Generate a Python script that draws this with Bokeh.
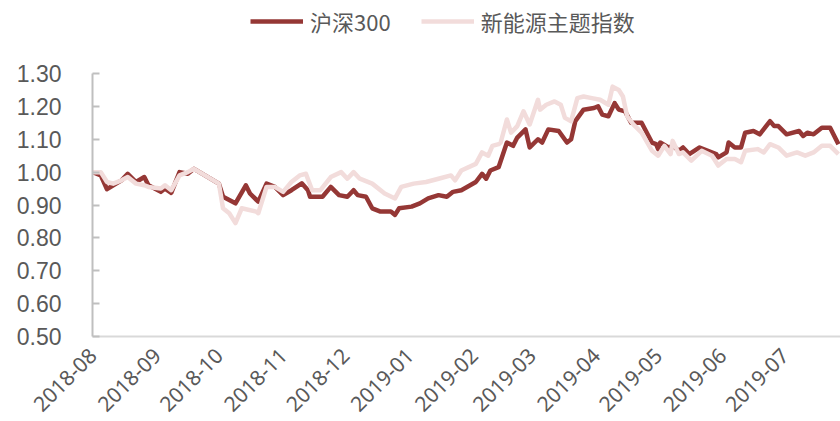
from datetime import datetime
from bokeh.plotting import figure
from bokeh.models import (Range1d, FixedTicker, DatetimeTickFormatter, Legend,
                          LegendItem, ColumnDataSource, NumeralTickFormatter)
from bokeh.embed import file_html
from bokeh.resources import INLINE
import math

# ---------------- data ----------------
hs300_dates = [
    "2018-08-01", "2018-08-05", "2018-08-08", "2018-08-11", "2018-08-15", "2018-08-18",
    "2018-08-22", "2018-08-26", "2018-08-28", "2018-09-03", "2018-09-05", "2018-09-08",
    "2018-09-12", "2018-09-16", "2018-09-19", "2018-10-01", "2018-10-03", "2018-10-09",
    "2018-10-14", "2018-10-16", "2018-10-20", "2018-10-24", "2018-10-28", "2018-11-01",
    "2018-11-05", "2018-11-10", "2018-11-13", "2018-11-14", "2018-11-20", "2018-11-24",
    "2018-11-28", "2018-12-02", "2018-12-05", "2018-12-07", "2018-12-11", "2018-12-14",
    "2018-12-18", "2018-12-23", "2018-12-25", "2018-12-27", "2019-01-02", "2019-01-06",
    "2019-01-10", "2019-01-15", "2019-01-19", "2019-01-22", "2019-01-26", "2019-02-02",
    "2019-02-05", "2019-02-07", "2019-02-09", "2019-02-13", "2019-02-17", "2019-02-20",
    "2019-02-22", "2019-02-26", "2019-02-28", "2019-03-04", "2019-03-06", "2019-03-09",
    "2019-03-14", "2019-03-18", "2019-03-20", "2019-03-22", "2019-03-26", "2019-03-31",
    "2019-04-02", "2019-04-04", "2019-04-07", "2019-04-10", "2019-04-12", "2019-04-15",
    "2019-04-18", "2019-04-23", "2019-04-28", "2019-04-30", "2019-05-01", "2019-05-02",
    "2019-05-06", "2019-05-08", "2019-05-11", "2019-05-13", "2019-05-16", "2019-05-21",
    "2019-05-25", "2019-05-29", "2019-05-30", "2019-06-03", "2019-06-04", "2019-06-07",
    "2019-06-10", "2019-06-12", "2019-06-16", "2019-06-19", "2019-06-24", "2019-06-26",
    "2019-06-28", "2019-07-02", "2019-07-08", "2019-07-10", "2019-07-12", "2019-07-15",
    "2019-07-19", "2019-07-23", "2019-07-27",
]
hs300 = [
    1.000, 0.990, 0.948, 0.960, 0.975, 0.995,
    0.970, 0.985, 0.960, 0.940, 0.950, 0.937,
    1.000, 0.995, 1.010, 0.965, 0.925, 0.905,
    0.960, 0.935, 0.910, 0.965, 0.955, 0.930,
    0.945, 0.966, 0.945, 0.925, 0.925, 0.955,
    0.930, 0.925, 0.945, 0.930, 0.925, 0.890,
    0.880, 0.880, 0.870, 0.890, 0.895, 0.905,
    0.920, 0.930, 0.925, 0.940, 0.945, 0.970,
    0.995, 0.980, 1.005, 1.015, 1.090, 1.080,
    1.105, 1.130, 1.075, 1.100, 1.090, 1.130,
    1.125, 1.090, 1.100, 1.155, 1.190, 1.195,
    1.200, 1.175, 1.170, 1.210, 1.190, 1.185,
    1.150, 1.150, 1.090, 1.085, 1.070, 1.090,
    1.075, 1.080, 1.065, 1.075, 1.055, 1.075,
    1.065, 1.055, 1.045, 1.060, 1.090, 1.075,
    1.075, 1.120, 1.125, 1.115, 1.155, 1.140,
    1.140, 1.115, 1.125, 1.110, 1.120, 1.115,
    1.135, 1.135, 1.085,
]

ne_dates = [
    "2018-08-01", "2018-08-05", "2018-08-08", "2018-08-11", "2018-08-15", "2018-08-18",
    "2018-08-22", "2018-08-26", "2018-08-28", "2018-09-03", "2018-09-05", "2018-09-08",
    "2018-09-12", "2018-09-16", "2018-09-19", "2018-10-01", "2018-10-03", "2018-10-06",
    "2018-10-09", "2018-10-12", "2018-10-19", "2018-10-20", "2018-10-24", "2018-10-28",
    "2018-11-01", "2018-11-05", "2018-11-09", "2018-11-12", "2018-11-15", "2018-11-19",
    "2018-11-24", "2018-11-29", "2018-12-02", "2018-12-05", "2018-12-08", "2018-12-14",
    "2018-12-20", "2018-12-25", "2018-12-28", "2019-01-03", "2019-01-09", "2019-01-15",
    "2019-01-21", "2019-01-23", "2019-01-26", "2019-02-02", "2019-02-05", "2019-02-08",
    "2019-02-10", "2019-02-13", "2019-02-14", "2019-02-17", "2019-02-19", "2019-02-22",
    "2019-02-25", "2019-02-28", "2019-03-04", "2019-03-05", "2019-03-08", "2019-03-12",
    "2019-03-15", "2019-03-17", "2019-03-20", "2019-03-23", "2019-03-26", "2019-03-30",
    "2019-04-03", "2019-04-07", "2019-04-09", "2019-04-12", "2019-04-14", "2019-04-16",
    "2019-04-19", "2019-04-23", "2019-04-28", "2019-05-01", "2019-05-04", "2019-05-07",
    "2019-05-08", "2019-05-11", "2019-05-13", "2019-05-17", "2019-05-22", "2019-05-27",
    "2019-05-30", "2019-06-03", "2019-06-07", "2019-06-10", "2019-06-12", "2019-06-18",
    "2019-06-21", "2019-06-24", "2019-06-28", "2019-07-02", "2019-07-07", "2019-07-11",
    "2019-07-15", "2019-07-19", "2019-07-23", "2019-07-27",
]
ne = [
    1.000, 1.000, 0.970, 0.965, 0.975, 0.985,
    0.965, 0.960, 0.955, 0.950, 0.960, 0.945,
    0.990, 1.000, 1.010, 0.965, 0.890, 0.875,
    0.845, 0.890, 0.880, 0.875, 0.955, 0.955,
    0.940, 0.970, 0.990, 0.995, 0.945, 0.945,
    0.985, 1.000, 0.980, 1.000, 0.980, 0.965,
    0.935, 0.920, 0.955, 0.965, 0.970, 0.980,
    0.990, 0.975, 1.005, 1.025, 1.060, 1.050,
    1.080, 1.085, 1.090, 1.160, 1.120, 1.140,
    1.185, 1.145, 1.220, 1.190, 1.205, 1.215,
    1.205, 1.165, 1.155, 1.225, 1.230, 1.225,
    1.220, 1.205, 1.260, 1.250, 1.230, 1.170,
    1.145, 1.120, 1.065, 1.050, 1.080, 1.055,
    1.095, 1.055, 1.060, 1.035, 1.065, 1.050,
    1.020, 1.040, 1.040, 1.030, 1.065, 1.070,
    1.060, 1.085, 1.075, 1.050, 1.060, 1.050,
    1.060, 1.080, 1.080, 1.055,
]

month_ticks = ["2018-08", "2018-09", "2018-10", "2018-11", "2018-12", "2019-01",
               "2019-02", "2019-03", "2019-04", "2019-05", "2019-06", "2019-07"]
y_ticks = [0.50, 0.60, 0.70, 0.80, 0.90, 1.00, 1.10, 1.20, 1.30]

series_names = ["沪深300", "新能源主题指数"]

# ---------------- figure ----------------
src1 = ColumnDataSource(dict(x=[datetime.strptime(d, "%Y-%m-%d") for d in hs300_dates], y=hs300))
src2 = ColumnDataSource(dict(x=[datetime.strptime(d, "%Y-%m-%d") for d in ne_dates], y=ne))

# frame spans the whole top of the picture; the y axis line is bounded to 0.5..1.3
y_lo, y_hi = y_ticks[0], y_ticks[-1]
px_per_unit = 263 / (y_hi - y_lo)
y_top = y_lo + 336 / px_per_unit

p = figure(width=840, height=421, output_backend="svg", toolbar_location=None,
           x_axis_type="datetime",
           x_range=Range1d(datetime(2018, 8, 1), datetime(2019, 7, 28)),
           y_range=Range1d(y_lo, y_top))
p.min_border_left = 92
p.min_border_right = 0
p.min_border_top = 0
p.min_border_bottom = 85
p.outline_line_color = None
p.xgrid.visible = False
p.ygrid.visible = False
p.background_fill_color = "white"
p.border_fill_color = "white"

r1 = p.line("x", "y", source=src1, line_color="#953735", line_width=4.5,
            line_join="round")
r2 = p.line("x", "y", source=src2, line_color="#F2DCDB", line_width=4.5,
            line_join="round")

# y axis
ya = p.yaxis[0]
ya.ticker = FixedTicker(ticks=y_ticks)
ya.bounds = (y_lo, y_hi)
ya.formatter = NumeralTickFormatter(format="0.00")
ya.axis_line_color = "#BFBFBF"
ya.axis_line_width = 2
ya.major_tick_line_color = "#BFBFBF"
ya.major_tick_line_width = 2
ya.major_tick_in = 7
ya.major_tick_out = 0
ya.minor_tick_line_color = None
ya.major_label_standoff = 31
ya.major_label_text_font = "Liberation Sans"
ya.major_label_text_font_size = "23px"
ya.major_label_text_color = "#595959"

# x axis
month_ms = [float(datetime.strptime(m + "-01", "%Y-%m-%d").timestamp() * 1000) for m in month_ticks]
xa = p.xaxis[0]
xa.ticker = FixedTicker(ticks=month_ms)
fmt = "%Y-%m"
xa.formatter = DatetimeTickFormatter(milliseconds=fmt, seconds=fmt, minsec=fmt,
                                     minutes=fmt, hourmin=fmt, hours=fmt, days=fmt,
                                     months=fmt, years=fmt)
xa.major_label_orientation = math.pi / 4
xa.axis_line_color = "#D9D9D9"
xa.axis_line_width = 2
xa.major_tick_line_color = None
xa.minor_tick_line_color = None
xa.major_label_standoff = 9
xa.major_label_text_font = "Noto Sans"
xa.major_label_text_font_size = "21px"
xa.major_label_text_color = "#595959"

legend = Legend(items=[LegendItem(label=series_names[0], renderers=[r1]),
                       LegendItem(label=series_names[1], renderers=[r2])],
                orientation="horizontal", location=(158, 299),
                glyph_width=53, glyph_height=20, label_standoff=7, spacing=30,
                padding=0, margin=0, border_line_color=None,
                background_fill_alpha=0, label_text_font_size="22px",
                label_text_color="#595959", label_text_font="Noto Sans CJK SC")
p.add_layout(legend, "center")

open("out.html", "w").write(file_html(p, INLINE))
